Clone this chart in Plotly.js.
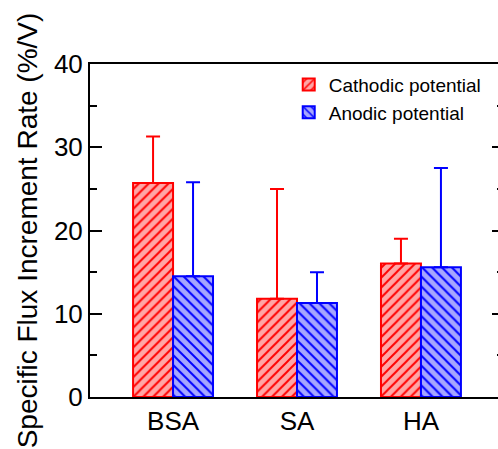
<!DOCTYPE html>
<html>
<head>
<meta charset="utf-8">
<script src="https://cdn.plot.ly/plotly-3.0.1.min.js"></script>
<style>
html,body{margin:0;padding:0;overflow:hidden;background:#fff;width:498px;height:449px;}
#chart{width:512px;height:449px;}
</style>
</head>
<body>
<div id="chart"></div>
<script>
const categories = ['BSA', 'SA', 'HA'];
const cathodicValues = [25.7, 11.8, 16.05];
const cathodicErrors = [5.6, 13.2, 2.95];
const anodicValues = [14.5, 11.3, 15.6];
const anodicErrors = [11.3, 3.7, 11.9];
const seriesNames = ['Cathodic potential', 'Anodic potential'];
const yTicks = [0, 10, 20, 30, 40];
const zeros = [0, 0, 0];

const FONT = 'Liberation Sans, Arial, sans-serif';

const traces = [
  {
    type: 'bar', name: seriesNames[0], x: categories, y: cathodicValues,
    marker: {
      color: '#ffaaaa',
      line: {color: '#ff0000', width: 2},
      pattern: {shape: '/', fgcolor: '#ff0000', bgcolor: '#ffa6a6', size: 7, solidity: 0.28, fillmode: 'replace'}
    },
    error_y: {type: 'data', symmetric: false, array: cathodicErrors, arrayminus: zeros, color: '#ff0000', thickness: 2, width: 7}
  },
  {
    type: 'bar', name: seriesNames[1], x: categories, y: anodicValues,
    marker: {
      color: '#aaaaff',
      line: {color: '#0000ff', width: 2},
      pattern: {shape: '\\', fgcolor: '#0000ff', bgcolor: '#a6a6ff', size: 7, solidity: 0.28, fillmode: 'replace'}
    },
    error_y: {type: 'data', symmetric: false, array: anodicErrors, arrayminus: zeros, color: '#0000ff', thickness: 2, width: 7}
  }
];

const layout = {
  width: 512, height: 449,
  margin: {l: 90, r: 8, t: 64, b: 52},
  paper_bgcolor: '#ffffff', plot_bgcolor: '#ffffff',
  font: {family: FONT, color: '#000', size: 26},
  barmode: 'group', bargap: 0.355, bargroupgap: 0,
  showlegend: true,
  legend: {
    x: 0.48, y: 0.995, xanchor: 'left', yanchor: 'top',
    font: {family: FONT, size: 19, color: '#000'},
    bgcolor: 'rgba(0,0,0,0)', borderwidth: 0, tracegroupgap: 0,
    itemwidth: 30
  },
  xaxis: {
    type: 'category', range: [-0.67, 2.67],
    showline: true, linecolor: '#000', linewidth: 2, mirror: true,
    ticks: '', showgrid: false, zeroline: false,
    tickfont: {family: FONT, size: 26, color: '#000'}
  },
  yaxis: {
    range: [0, 40], tickvals: yTicks, ticktext: yTicks.map(String),
    showline: true, linecolor: '#000', linewidth: 2, mirror: 'ticks',
    ticks: 'inside', ticklen: 12, tickwidth: 2, tickcolor: '#000',
    minor: {dtick: 5, ticks: 'inside', ticklen: 7, tickwidth: 2, tickcolor: '#000'},
    showgrid: false, zeroline: false,
    tickfont: {family: FONT, size: 26, color: '#000'},
    title: {text: 'Specific Flux Increment Rate (%/V)', font: {family: FONT, size: 28, color: '#000'}, standoff: 8}
  }
};

Plotly.newPlot('chart', traces, layout, {displayModeBar: false, staticPlot: true});
</script>
</body>
</html>
